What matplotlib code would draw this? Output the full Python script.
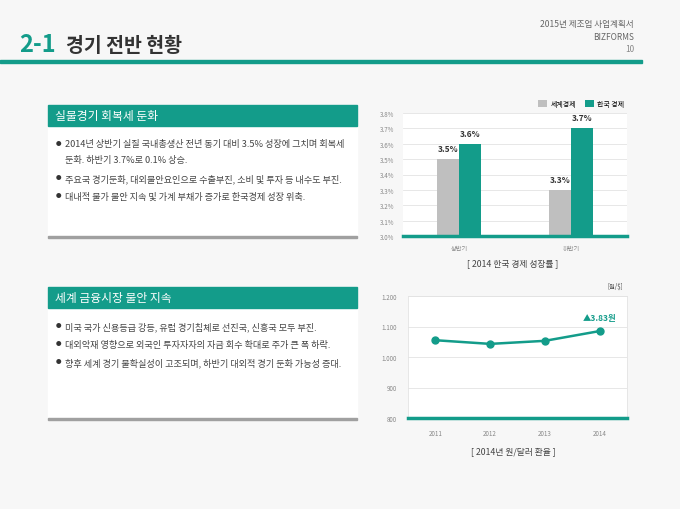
import matplotlib.pyplot as plt
from matplotlib.patches import Rectangle
import numpy as np

plt.rcParams['font.family'] = ['Noto Sans CJK KR', 'DejaVu Sans']

teal = '#139c8a'
grey_bar = '#bfbfbf'

# data
half_labels = ['상반기', '하반기']
world_growth = [3.5, 3.3]
korea_growth = [3.6, 3.7]
growth_ticks = [3.0, 3.1, 3.2, 3.3, 3.4, 3.5, 3.6, 3.7, 3.8]

years = ['2011', '2012', '2013', '2014']
won_dollar = [1055, 1043, 1053, 1085]
fx_ticks = [800, 900, 1000, 1100, 1200]

box1_title = '실물경기 회복세 둔화'
box1_lines = ['2014년 상반기 실질 국내총생산 전년 동기 대비 3.5% 성장에 그치며 회복세\n둔화. 하반기 3.7%로 0.1% 상승.',
              '주요국 경기둔화, 대외불안요인으로 수출부진, 소비 및 투자 등 내수도 부진.',
              '대내적 물가 불안 지속 및 가계 부채가 증가로 한국경제 성장 위축.']
box2_title = '세계 금융시장 불안 지속'
box2_lines = ['미국 국가 신용등급 강등, 유럽 경기침체로 선진국, 신흥국 모두 부진.',
              '대외악재 영향으로 외국인 투자자자의 자금 회수 확대로 주가 큰 폭 하락.',
              '향후 세계 경기 불확실성이 고조되며, 하반기 대외적 경기 둔화 가능성 증대.']

W, H = 680, 510
fig = plt.figure(figsize=(6.8, 5.1), dpi=100, facecolor='#f7f7f7')


def fx(x):
    return x / W


def fy(y):
    return 1 - y / H


# header
fig.text(fx(19), fy(45), '2-1', color=teal, fontsize=17, fontweight='bold', va='center')
fig.text(fx(66), fy(46), '경기 전반 현황', color='#333333', fontsize=14, fontweight='bold', va='center')
fig.text(fx(634), fy(25), '2015년 제조업 사업계획서', color='#666666', fontsize=6.2, ha='right', va='center')
fig.text(fx(634), fy(37), 'BIZFORMS', color='#666666', fontsize=6, ha='right', va='center')
fig.text(fx(634), fy(49), '10', color='#888888', fontsize=6, ha='right', va='center')
fig.patches.append(Rectangle((0, fy(63.5)), fx(642), 2.5 / H, transform=fig.transFigure,
                             color=teal, zorder=1))


def text_box(top, head_h, bottom, title, lines):
    x0, x1 = 48, 357
    fig.patches.append(Rectangle((fx(x0), fy(bottom)), fx(x1 - x0), (bottom - top) / H,
                                 transform=fig.transFigure, color='white', zorder=1))
    fig.patches.append(Rectangle((fx(x0), fy(bottom + 2)), fx(x1 - x0), 2.5 / H,
                                 transform=fig.transFigure, color='#a0a0a0', zorder=1))
    fig.patches.append(Rectangle((fx(x0), fy(top + head_h)), fx(x1 - x0), head_h / H,
                                 transform=fig.transFigure, color=teal, zorder=2))
    fig.text(fx(55), fy(top + head_h / 2), title, color='white', fontsize=8.5, va='center', zorder=3)
    y = top + head_h + 18
    for ln in lines:
        parts = ln.split('\n')
        fig.text(fx(56), fy(y), '●', color='#333333', fontsize=4, va='center', zorder=3)
        fig.text(fx(65), fy(y), parts[0], color='#444444', fontsize=6.6, va='center', zorder=3)
        for p in parts[1:]:
            y += 16
            fig.text(fx(65), fy(y), p, color='#444444', fontsize=6.6, va='center', zorder=3)
        y += 18


text_box(106, 21, 237, box1_title, box1_lines)
text_box(288, 21, 419, box2_title, box2_lines)

# bar chart
ax1 = fig.add_axes([fx(403), fy(237), fx(627 - 403), (237 - 114) / H])
ax1.set_facecolor('white')
xpos = np.arange(len(half_labels))
bw = 0.195
b1 = ax1.bar(xpos - bw / 2, world_growth, bw, color=grey_bar, label='세계경제', zorder=2)
b2 = ax1.bar(xpos + bw / 2, korea_growth, bw, color=teal, label='한국 경제', zorder=2)
for bars in (b1, b2):
    for b in bars:
        ax1.text(b.get_x() + b.get_width() / 2, b.get_height() + 0.04, f'{b.get_height():.1f}%',
                 ha='center', va='bottom', fontsize=6, fontweight='bold', color='#333333')
ax1.set_xlim(-0.5, 1.5)
ax1.set_ylim(3.0, 3.8)
ax1.set_yticks(growth_ticks)
ax1.set_yticklabels([f'{t:.1f}%' for t in growth_ticks])
ax1.set_xticks(xpos)
ax1.set_xticklabels(half_labels)
ax1.grid(axis='y', color='#e3e3e3', lw=0.6, zorder=0)
for s in ['top', 'right', 'left']:
    ax1.spines[s].set_visible(False)
ax1.spines['bottom'].set_color(teal)
ax1.spines['bottom'].set_linewidth(2.5)
ax1.tick_params(axis='both', length=0, labelsize=4.5, colors='#888888', pad=6)
ax1.legend(loc='lower right', bbox_to_anchor=(1.0, 1.02), ncol=2, fontsize=5, frameon=False,
           handlelength=1.3, handleheight=1.3, columnspacing=1.2, handletextpad=0.5, borderaxespad=0)
fig.text(fx(513), fy(264), '[ 2014 한국 경제 성장률 ]', ha='center', va='center', fontsize=6.3, color='#444444')

# line chart
ax2 = fig.add_axes([fx(408), fy(419), fx(627 - 408), (419 - 297) / H])
ax2.set_facecolor('white')
ypos = np.arange(len(years))
ax2.plot(ypos, won_dollar, color=teal, lw=1.8, marker='o', ms=5, zorder=3)
ax2.set_xlim(-0.5, 3.5)
ax2.set_ylim(800, 1200)
ax2.set_yticks(fx_ticks)
ax2.set_yticklabels([f'{t:,}'.replace(',', '.') for t in fx_ticks])
ax2.set_xticks(ypos)
ax2.set_xticklabels(years)
ax2.grid(axis='y', color='#e3e3e3', lw=0.6, zorder=0)
for s in ['top', 'right', 'left']:
    ax2.spines[s].set_color('#e3e3e3')
    ax2.spines[s].set_linewidth(0.6)
ax2.spines['bottom'].set_color(teal)
ax2.spines['bottom'].set_linewidth(2.5)
ax2.tick_params(axis='both', length=0, labelsize=4.5, colors='#888888', pad=8)
ax2.text(3, 1115, '▲3.83원', color=teal, fontsize=6, fontweight='bold', ha='center', va='bottom')
fig.text(fx(623), fy(287), '[원/$]', ha='right', va='center', fontsize=4.5, color='#444444')
fig.text(fx(513), fy(452), '[ 2014년 원/달러 환율 ]', ha='center', va='center', fontsize=6.3, color='#444444')

fig.savefig('out.png', dpi=100, facecolor=fig.get_facecolor())
